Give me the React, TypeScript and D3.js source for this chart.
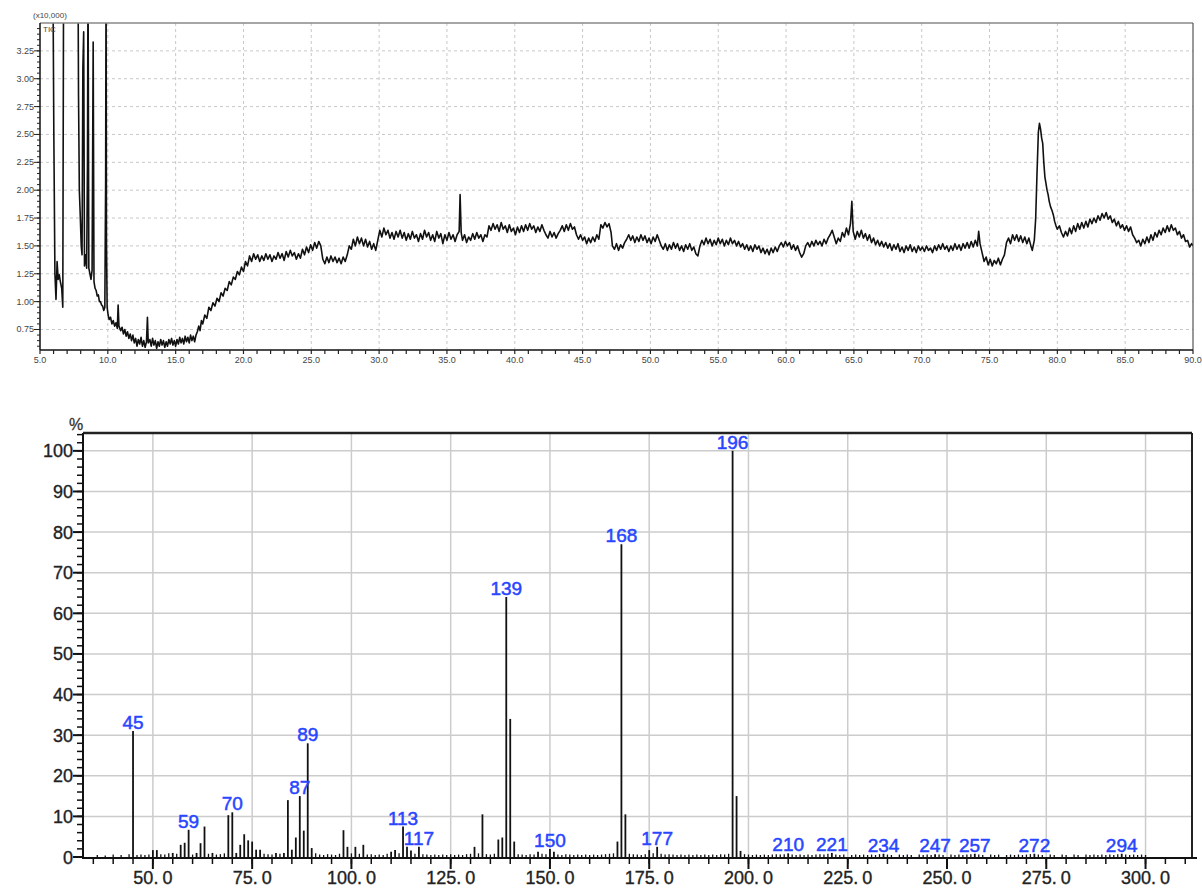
import * as d3 from 'd3';

// TIC trace, intensity in units of 10,000 (values above 3.5 run off the top)
const ticTrace: [number, number][] = [
  [5.95, 4.0], [6.02, 2.5], [6.1, 1.25], [6.18, 1.02], [6.26, 1.36], [6.34, 1.2], [6.42, 1.24], [6.5, 1.18],
  [6.6, 1.12], [6.68, 0.95], [6.74, 4.0], [7.8, 4.0], [7.84, 2.85], [7.9, 2.0], [7.96, 1.8], [8.04, 1.5],
  [8.1, 1.42], [8.16, 3.1], [8.22, 3.42], [8.28, 1.32], [8.36, 1.42], [8.44, 1.3], [8.5, 2.25], [8.54, 4.0],
  [8.6, 1.3], [8.68, 1.25], [8.76, 1.2], [8.84, 1.28], [8.92, 3.33], [8.98, 1.18], [9.06, 1.12], [9.14, 1.1],
  [9.22, 1.05], [9.3, 1.06], [9.38, 1.0], [9.46, 1.0], [9.54, 0.97], [9.62, 0.96], [9.7, 0.92], [9.78, 0.95],
  [9.84, 2.1], [9.87, 4.0], [9.9, 1.55], [9.95, 0.95],
  [10.02, 0.88], [10.1, 0.84], [10.2, 0.86], [10.3, 0.8], [10.4, 0.83], [10.5, 0.78], [10.6, 0.81], [10.7, 0.76],
  [10.76, 0.97], [10.82, 0.78], [10.95, 0.74], [11.05, 0.77], [11.15, 0.71], [11.25, 0.75], [11.35, 0.69],
  [11.45, 0.73], [11.55, 0.67], [11.65, 0.71], [11.75, 0.65], [11.85, 0.7], [11.95, 0.63], [12.05, 0.67],
  [12.15, 0.6], [12.25, 0.66], [12.35, 0.62], [12.45, 0.68], [12.55, 0.6], [12.65, 0.65], [12.75, 0.59],
  [12.85, 0.64], [12.92, 0.86], [12.98, 0.63], [13.1, 0.66], [13.2, 0.6], [13.3, 0.67], [13.4, 0.61],
  [13.5, 0.65], [13.6, 0.58], [13.7, 0.64], [13.8, 0.6], [13.9, 0.66], [14.0, 0.61], [14.1, 0.65], [14.2, 0.59],
  [14.3, 0.64], [14.4, 0.6], [14.5, 0.66], [14.6, 0.62], [14.7, 0.67], [14.8, 0.61], [14.9, 0.65], [15.0, 0.6],
  [15.1, 0.66], [15.2, 0.62], [15.3, 0.68], [15.4, 0.63], [15.5, 0.67], [15.6, 0.62], [15.7, 0.69], [15.8, 0.64],
  [15.9, 0.68], [16.0, 0.63], [16.1, 0.7], [16.2, 0.65], [16.3, 0.69], [16.4, 0.64], [16.5, 0.7], [16.6, 0.73],
  [16.7, 0.78], [16.8, 0.74], [16.9, 0.83], [17.0, 0.8], [17.15, 0.88], [17.3, 0.85], [17.45, 0.95], [17.6, 0.92],
  [17.75, 0.99], [17.9, 0.96], [18.05, 1.03], [18.2, 1.0], [18.35, 1.08], [18.5, 1.05], [18.65, 1.12], [18.8, 1.1],
  [18.95, 1.18], [19.1, 1.15], [19.25, 1.22], [19.4, 1.2], [19.55, 1.27], [19.7, 1.24], [19.85, 1.31], [20.0, 1.27],
  [20.15, 1.36], [20.3, 1.32], [20.45, 1.41], [20.6, 1.36], [20.75, 1.43], [20.9, 1.38], [21.05, 1.42], [21.2, 1.36],
  [21.35, 1.41], [21.5, 1.37], [21.65, 1.43], [21.8, 1.38], [21.95, 1.42], [22.1, 1.36], [22.25, 1.41], [22.4, 1.38],
  [22.55, 1.44], [22.7, 1.39], [22.85, 1.43], [23.0, 1.37], [23.15, 1.45], [23.3, 1.4], [23.45, 1.46], [23.6, 1.41],
  [23.75, 1.44], [23.9, 1.38], [24.05, 1.43], [24.2, 1.39], [24.35, 1.47], [24.5, 1.42], [24.65, 1.49], [24.8, 1.44],
  [24.95, 1.51], [25.1, 1.46], [25.25, 1.53], [25.4, 1.48], [25.55, 1.54], [25.7, 1.5], [25.85, 1.38], [26.0, 1.34],
  [26.15, 1.4], [26.3, 1.35], [26.45, 1.41], [26.6, 1.36], [26.75, 1.4], [26.9, 1.35], [27.05, 1.39], [27.2, 1.34],
  [27.35, 1.4], [27.5, 1.36], [27.65, 1.42], [27.8, 1.5], [27.95, 1.47], [28.1, 1.56], [28.25, 1.5], [28.4, 1.58],
  [28.55, 1.52], [28.7, 1.57], [28.85, 1.5], [29.0, 1.56], [29.15, 1.49], [29.3, 1.54], [29.45, 1.47], [29.6, 1.52],
  [29.75, 1.46], [29.9, 1.55], [30.05, 1.64], [30.2, 1.58], [30.35, 1.66], [30.5, 1.6], [30.65, 1.64], [30.8, 1.57],
  [30.95, 1.62], [31.1, 1.56], [31.25, 1.63], [31.4, 1.58], [31.55, 1.64], [31.7, 1.57], [31.85, 1.62], [32.0, 1.55],
  [32.15, 1.61], [32.3, 1.56], [32.45, 1.63], [32.6, 1.57], [32.75, 1.6], [32.9, 1.54], [33.05, 1.61], [33.2, 1.56],
  [33.35, 1.64], [33.5, 1.58], [33.65, 1.62], [33.8, 1.55], [33.95, 1.6], [34.1, 1.54], [34.25, 1.63], [34.4, 1.57],
  [34.55, 1.61], [34.7, 1.52], [34.85, 1.6], [35.0, 1.55], [35.15, 1.62], [35.3, 1.56], [35.45, 1.6], [35.6, 1.54],
  [35.75, 1.6], [35.9, 1.63], [35.97, 1.96], [36.05, 1.62], [36.15, 1.55], [36.3, 1.6], [36.45, 1.53], [36.6, 1.58],
  [36.75, 1.55], [36.9, 1.61], [37.05, 1.56], [37.2, 1.62], [37.35, 1.57], [37.5, 1.6], [37.65, 1.54], [37.8, 1.6],
  [37.95, 1.58], [38.1, 1.68], [38.25, 1.64], [38.4, 1.7], [38.55, 1.65], [38.7, 1.69], [38.85, 1.63], [39.0, 1.71],
  [39.15, 1.65], [39.3, 1.68], [39.45, 1.62], [39.6, 1.69], [39.75, 1.63], [39.9, 1.66], [40.05, 1.6], [40.2, 1.67],
  [40.35, 1.62], [40.5, 1.68], [40.65, 1.63], [40.8, 1.69], [40.95, 1.64], [41.1, 1.7], [41.25, 1.65], [41.4, 1.68],
  [41.55, 1.62], [41.7, 1.67], [41.85, 1.63], [42.0, 1.69], [42.15, 1.64], [42.3, 1.6], [42.45, 1.57], [42.6, 1.63],
  [42.75, 1.58], [42.9, 1.62], [43.05, 1.57], [43.2, 1.61], [43.35, 1.64], [43.5, 1.68], [43.65, 1.63], [43.8, 1.69],
  [43.95, 1.64], [44.1, 1.7], [44.25, 1.65], [44.4, 1.67], [44.55, 1.6], [44.7, 1.56], [44.85, 1.6], [45.0, 1.55],
  [45.15, 1.58], [45.3, 1.52], [45.45, 1.57], [45.6, 1.53], [45.75, 1.58], [45.9, 1.54], [46.05, 1.6], [46.2, 1.56],
  [46.35, 1.69], [46.5, 1.66], [46.65, 1.71], [46.8, 1.67], [46.95, 1.7], [47.1, 1.62], [47.2, 1.5], [47.35, 1.47],
  [47.5, 1.52], [47.65, 1.46], [47.8, 1.51], [47.95, 1.48], [48.1, 1.53], [48.25, 1.56], [48.4, 1.6], [48.55, 1.55],
  [48.7, 1.59], [48.85, 1.53], [49.0, 1.58], [49.15, 1.54], [49.3, 1.6], [49.45, 1.55], [49.6, 1.59], [49.75, 1.53],
  [49.9, 1.57], [50.05, 1.52], [50.2, 1.58], [50.35, 1.54], [50.5, 1.6], [50.65, 1.55], [50.8, 1.5], [50.95, 1.47],
  [51.1, 1.52], [51.25, 1.46], [51.4, 1.51], [51.55, 1.47], [51.7, 1.53], [51.85, 1.48], [52.0, 1.52], [52.15, 1.46],
  [52.3, 1.5], [52.45, 1.45], [52.6, 1.51], [52.75, 1.47], [52.9, 1.52], [53.05, 1.46], [53.2, 1.49], [53.35, 1.43],
  [53.5, 1.41], [53.65, 1.5], [53.8, 1.55], [53.95, 1.51], [54.1, 1.57], [54.25, 1.52], [54.4, 1.56], [54.55, 1.5],
  [54.7, 1.55], [54.85, 1.51], [55.0, 1.57], [55.15, 1.52], [55.3, 1.56], [55.45, 1.5], [55.6, 1.55], [55.75, 1.51],
  [55.9, 1.57], [56.05, 1.52], [56.2, 1.55], [56.35, 1.5], [56.5, 1.54], [56.65, 1.49], [56.8, 1.52], [56.95, 1.47],
  [57.1, 1.51], [57.25, 1.46], [57.4, 1.5], [57.55, 1.45], [57.7, 1.51], [57.85, 1.47], [58.0, 1.5], [58.15, 1.44],
  [58.3, 1.48], [58.45, 1.43], [58.6, 1.47], [58.75, 1.42], [58.9, 1.48], [59.05, 1.44], [59.2, 1.49], [59.35, 1.45],
  [59.5, 1.5], [59.65, 1.53], [59.8, 1.49], [59.95, 1.54], [60.1, 1.5], [60.25, 1.53], [60.4, 1.47], [60.55, 1.51],
  [60.7, 1.46], [60.85, 1.5], [61.0, 1.44], [61.15, 1.4], [61.3, 1.43], [61.45, 1.5], [61.6, 1.53], [61.75, 1.49],
  [61.9, 1.54], [62.05, 1.5], [62.2, 1.55], [62.35, 1.51], [62.5, 1.54], [62.65, 1.5], [62.8, 1.56], [62.95, 1.52],
  [63.1, 1.57], [63.25, 1.6], [63.4, 1.64], [63.55, 1.58], [63.7, 1.52], [63.85, 1.57], [64.0, 1.54], [64.15, 1.62],
  [64.3, 1.58], [64.45, 1.66], [64.6, 1.6], [64.75, 1.7], [64.85, 1.9], [64.95, 1.63], [65.1, 1.56], [65.25, 1.63],
  [65.4, 1.58], [65.55, 1.64], [65.7, 1.57], [65.85, 1.61], [66.0, 1.55], [66.15, 1.6], [66.3, 1.53], [66.45, 1.57],
  [66.6, 1.51], [66.75, 1.55], [66.9, 1.5], [67.05, 1.54], [67.2, 1.49], [67.35, 1.53], [67.5, 1.48], [67.65, 1.52],
  [67.8, 1.46], [67.95, 1.51], [68.1, 1.47], [68.25, 1.52], [68.4, 1.45], [68.55, 1.49], [68.7, 1.44], [68.85, 1.5],
  [69.0, 1.46], [69.15, 1.51], [69.3, 1.45], [69.45, 1.49], [69.6, 1.44], [69.75, 1.5], [69.9, 1.46], [70.05, 1.49],
  [70.2, 1.45], [70.35, 1.5], [70.5, 1.46], [70.65, 1.48], [70.8, 1.44], [70.95, 1.5], [71.1, 1.46], [71.25, 1.51],
  [71.4, 1.47], [71.55, 1.52], [71.7, 1.47], [71.85, 1.5], [72.0, 1.45], [72.15, 1.5], [72.3, 1.46], [72.45, 1.52],
  [72.6, 1.47], [72.75, 1.51], [72.9, 1.46], [73.05, 1.52], [73.2, 1.48], [73.35, 1.53], [73.5, 1.48], [73.65, 1.54],
  [73.8, 1.49], [73.95, 1.55], [74.1, 1.5], [74.2, 1.63], [74.3, 1.52], [74.45, 1.44], [74.6, 1.36], [74.75, 1.4],
  [74.9, 1.33], [75.05, 1.38], [75.2, 1.32], [75.35, 1.37], [75.5, 1.34], [75.65, 1.39], [75.8, 1.33], [75.95, 1.38],
  [76.1, 1.42], [76.25, 1.53], [76.4, 1.57], [76.55, 1.52], [76.7, 1.6], [76.85, 1.55], [77.0, 1.6], [77.15, 1.54],
  [77.3, 1.59], [77.45, 1.53], [77.6, 1.58], [77.75, 1.52], [77.9, 1.57], [78.05, 1.5], [78.15, 1.46], [78.3, 1.55],
  [78.4, 1.74], [78.5, 2.15], [78.6, 2.52], [78.68, 2.6], [78.76, 2.55], [78.84, 2.47], [78.92, 2.42], [79.0, 2.25],
  [79.08, 2.12], [79.16, 2.06], [79.24, 2.0], [79.32, 1.96], [79.4, 1.9], [79.5, 1.85], [79.6, 1.82], [79.7, 1.78],
  [79.8, 1.72], [79.9, 1.68], [80.0, 1.65], [80.15, 1.68], [80.3, 1.62], [80.45, 1.58], [80.6, 1.63], [80.75, 1.59],
  [80.9, 1.66], [81.05, 1.61], [81.2, 1.68], [81.35, 1.63], [81.5, 1.7], [81.65, 1.65], [81.8, 1.71], [81.95, 1.66],
  [82.1, 1.72], [82.25, 1.67], [82.4, 1.74], [82.55, 1.7], [82.7, 1.75], [82.85, 1.71], [83.0, 1.77], [83.15, 1.73],
  [83.3, 1.79], [83.45, 1.75], [83.6, 1.8], [83.75, 1.74], [83.9, 1.77], [84.05, 1.71], [84.2, 1.74], [84.35, 1.68],
  [84.5, 1.72], [84.65, 1.66], [84.8, 1.69], [84.95, 1.64], [85.1, 1.68], [85.25, 1.63], [85.4, 1.67], [85.55, 1.6],
  [85.7, 1.57], [85.85, 1.53], [86.0, 1.55], [86.15, 1.5], [86.3, 1.56], [86.45, 1.52], [86.6, 1.58], [86.75, 1.53],
  [86.9, 1.6], [87.05, 1.55], [87.2, 1.62], [87.35, 1.58], [87.5, 1.64], [87.65, 1.6], [87.8, 1.66], [87.95, 1.62],
  [88.1, 1.68], [88.25, 1.63], [88.4, 1.69], [88.55, 1.64], [88.7, 1.66], [88.85, 1.6], [89.0, 1.63], [89.15, 1.57],
  [89.3, 1.6], [89.45, 1.54], [89.6, 1.55], [89.75, 1.49], [89.9, 1.52], [90.0, 1.5],
];

const ticYTicks = [0.75, 1.0, 1.25, 1.5, 1.75, 2.0, 2.25, 2.5, 2.75, 3.0, 3.25];
const ticXTicks = [5, 10, 15, 20, 25, 30, 35, 40, 45, 50, 55, 60, 65, 70, 75, 80, 85, 90];

// mass spectrum
const peakMz = [
  45, 50, 51, 55, 57, 58, 59, 61, 62, 63, 65, 69, 70, 71, 72, 73, 74, 75, 76, 77, 81, 83, 84, 85, 86, 87, 88, 89, 90,
  98, 99, 101, 103, 110, 111, 113, 114, 115, 117, 131, 133, 137, 138, 139, 140, 141, 147, 150, 151, 167, 168, 169,
  175, 177, 196, 197, 198, 210, 221, 234, 247, 257, 272, 294,
];
const peakIntensity = [
  31, 1.7, 1.7, 1.0, 3.0, 3.5, 6.7, 1.0, 3.4, 7.5, 1.0, 10.3, 11, 1.0, 3.0, 5.6, 4.1, 3.8, 1.8, 1.8, 1.0, 1.0, 14,
  1.8, 4.8, 15, 6.5, 28, 2.2, 6.6, 2.5, 2.5, 3.0, 1.3, 1.7, 7.5, 2.5, 1.6, 2.5, 2.5, 10.5, 4.3, 4.8, 64, 34, 3.8,
  1.3, 2.0, 1.3, 3.8, 77, 10.5, 1.7, 2.5, 100, 15, 1.5, 0.9, 1.0, 0.8, 0.7, 0.8, 0.8, 0.8,
];
const labeledMz = [45, 59, 70, 87, 89, 113, 117, 139, 150, 168, 177, 196, 210, 221, 234, 247, 257, 272, 294];

// tiny baseline peaks
const minorPeaks: [number, number][] = [
  [36, 0.5], [38, 0.4], [40, 0.6], [42, 0.5], [44, 0.7], [46, 0.5], [47, 0.6], [48, 0.5], [49, 0.6], [52, 0.7],
  [53, 0.6], [54, 0.9], [56, 0.8], [60, 0.6], [64, 0.8], [66, 0.6], [67, 0.7], [68, 0.9], [78, 0.8], [79, 0.7],
  [80, 0.6], [82, 0.8], [91, 0.9], [92, 0.6], [93, 0.5], [94, 0.7], [95, 0.6], [96, 0.5], [97, 0.8], [100, 0.9],
  [102, 0.8], [104, 0.6], [105, 0.7], [106, 0.5], [107, 0.6], [108, 0.5], [109, 0.8], [112, 0.9], [116, 0.8],
  [118, 0.7], [119, 0.6], [120, 0.5], [121, 0.6], [122, 0.5], [123, 0.6], [124, 0.5], [125, 0.7], [126, 0.5],
  [127, 0.6], [128, 0.5], [129, 0.7], [130, 0.8], [132, 0.9], [134, 0.7], [135, 0.6], [136, 0.8], [142, 0.7],
  [143, 0.6], [144, 0.5], [145, 0.7], [146, 0.6], [148, 0.8], [149, 0.7], [152, 0.6], [153, 0.5], [154, 0.7],
  [155, 0.6], [156, 0.5], [157, 0.6], [158, 0.5], [159, 0.6], [160, 0.5], [161, 0.6], [162, 0.5], [163, 0.6],
  [164, 0.7], [165, 0.8], [166, 0.9], [170, 0.8], [171, 0.7], [172, 0.6], [173, 0.5], [174, 0.7], [176, 0.9],
  [178, 0.8], [179, 0.6], [180, 0.7], [181, 0.6], [182, 0.5], [183, 0.6], [184, 0.5], [185, 0.6], [186, 0.5],
  [187, 0.6], [188, 0.5], [189, 0.6], [190, 0.5], [191, 0.6], [192, 0.5], [193, 0.7], [194, 0.6], [195, 0.8],
  [199, 0.7], [200, 0.6], [201, 0.5], [202, 0.6], [203, 0.5], [204, 0.6], [205, 0.5], [206, 0.6], [207, 0.7],
  [208, 0.6], [209, 0.7], [211, 0.6], [212, 0.5], [213, 0.6], [214, 0.5], [215, 0.6], [216, 0.5], [217, 0.6],
  [218, 0.7], [219, 0.6], [220, 0.8], [222, 0.6], [223, 0.5], [224, 0.6], [226, 0.5], [227, 0.6], [228, 0.5],
  [229, 0.6], [230, 0.5], [231, 0.6], [232, 0.5], [233, 0.7], [235, 0.6], [236, 0.5], [238, 0.6], [239, 0.5],
  [240, 0.6], [241, 0.5], [243, 0.6], [244, 0.5], [245, 0.6], [246, 0.5], [248, 0.6], [249, 0.5], [251, 0.6],
  [252, 0.5], [253, 0.6], [254, 0.5], [255, 0.6], [256, 0.7], [258, 0.6], [259, 0.5], [261, 0.6], [262, 0.5],
  [263, 0.6], [265, 0.5], [266, 0.6], [267, 0.5], [268, 0.6], [269, 0.5], [270, 0.6], [271, 0.7], [273, 0.6],
  [274, 0.5], [276, 0.6], [277, 0.5], [279, 0.6], [280, 0.5], [282, 0.6], [283, 0.5], [285, 0.6], [286, 0.5],
  [287, 0.6], [288, 0.5], [289, 0.6], [290, 0.5], [291, 0.6], [292, 0.5], [293, 0.7], [295, 0.6], [296, 0.5],
  [297, 0.6], [298, 0.5], [299, 0.6], [300, 0.5],
];

const msYTicks = [0, 10, 20, 30, 40, 50, 60, 70, 80, 90, 100];
const msXTicks = [50, 75, 100, 125, 150, 175, 200, 225, 250, 275, 300];

const W = 1202;
const H = 890;

export default function App() {
  // --- chromatogram ---
  const tL = 40, tR = 1193, tT = 23, tB = 350;
  const tx = d3.scaleLinear().domain([5, 90]).range([tL, tR]);
  const ty = d3.scaleLinear().domain([0.566, 3.5]).range([tB, tT]);
  const ticLine = d3.line<[number, number]>().x(d => tx(d[0])).y(d => ty(d[1]));
  const ticMinorY = d3.range(0.6, 3.49, 0.05);
  const ticMinorX = d3.range(5, 90.5, 1);

  // --- mass spectrum ---
  const mL = 83, mR = 1192, mT = 433, mB = 857;
  const mx = d3.scaleLinear().domain([32.4, 311.7]).range([mL, mR]);
  const my = d3.scaleLinear().domain([0, 104.4]).range([mB, mT]);
  const msMinorY = d3.range(0, 105, 2);
  const msMinorX = d3.range(35, 311, 5);
  const peaks = peakMz.map((m, i) => ({ m, v: peakIntensity[i] }));

  const small = { fontFamily: 'Liberation Sans, Arial, sans-serif', fontSize: 9, fill: '#444' };
  const tickFont = {
    fontFamily: 'Liberation Sans, Arial, sans-serif', fontSize: 18, fill: '#222', stroke: '#222', strokeWidth: 0.35,
  };
  const blue = '#2845ff';

  return (
    <svg width={W} height={H} style={{ position: 'absolute', left: 0, top: 0, background: '#fff' }}>
      <defs>
        <clipPath id="ticClip">
          <rect x={tL} y={tT} width={tR - tL} height={tB - tT} />
        </clipPath>
      </defs>

      {/* chromatogram grid */}
      {ticXTicks.slice(1, -1).map(t => (
        <line key={'tg' + t} x1={tx(t)} x2={tx(t)} y1={tT} y2={tB} stroke="#c8c8c8" strokeDasharray="3,3" />
      ))}
      {ticYTicks.map(v => (
        <line key={'tgy' + v} x1={tL} x2={tR} y1={ty(v)} y2={ty(v)} stroke="#c8c8c8" strokeDasharray="3,3" />
      ))}

      <path d={ticLine(ticTrace) || ''} fill="none" stroke="#111" strokeWidth={1.6} strokeLinejoin="round"
        clipPath="url(#ticClip)" />

      {/* chromatogram frame and axes */}
      <line x1={tL} x2={tR} y1={tT} y2={tT} stroke="#888" strokeWidth={1.5} />
      <line x1={tR} x2={tR} y1={tT} y2={tB} stroke="#555" strokeWidth={1.2} />
      <line x1={tL} x2={tL} y1={tT} y2={tB} stroke="#111" strokeWidth={1.5} />
      <line x1={tL} x2={tR} y1={tB} y2={tB} stroke="#111" strokeWidth={1.3} />
      {ticMinorY.map(v => (
        <line key={'tmy' + v} x1={tL - 3} x2={tL} y1={ty(v)} y2={ty(v)} stroke="#222" />
      ))}
      {ticYTicks.map(v => (
        <g key={'tly' + v}>
          <line x1={tL - 6} x2={tL} y1={ty(v)} y2={ty(v)} stroke="#222" />
          <text x={tL - 6} y={ty(v) + 3} textAnchor="end" {...small}>{v.toFixed(2)}</text>
        </g>
      ))}
      {ticMinorX.map(t => (
        <line key={'tmx' + t} x1={tx(t)} x2={tx(t)} y1={tB} y2={tB + 4} stroke="#222" strokeWidth={1.2} />
      ))}
      {ticXTicks.map(t => (
        <text key={'tlx' + t} x={tx(t)} y={tB + 13} textAnchor="middle" {...small}>{t.toFixed(1)}</text>
      ))}
      <text x={33} y={18} {...small} fontSize={8}>(x10,000)</text>
      <text x={43} y={32} {...small} fontSize={8}>TIC</text>

      {/* mass spectrum grid */}
      {msXTicks.map(m => (
        <line key={'mg' + m} x1={mx(m)} x2={mx(m)} y1={mT} y2={mB} stroke="#cccccc" strokeWidth={1.5} />
      ))}
      {msYTicks.slice(1).map(v => (
        <line key={'mgy' + v} x1={mL} x2={mR} y1={my(v)} y2={my(v)} stroke="#cccccc" strokeWidth={1.5} />
      ))}

      {/* baseline noise and peaks */}
      {minorPeaks.map(([m, v]) => (
        <line key={'mn' + m} x1={mx(m)} x2={mx(m)} y1={my(0)} y2={my(v)} stroke="#111" strokeWidth={1.3} />
      ))}
      {peaks.map(p => (
        <line key={'pk' + p.m} x1={mx(p.m)} x2={mx(p.m)} y1={my(0)} y2={my(p.v)} stroke="#111" strokeWidth={1.8} />
      ))}
      {peaks.filter(p => labeledMz.includes(p.m)).map(p => (
        <text key={'pl' + p.m} x={mx(p.m)} y={my(p.v) - 2} textAnchor="middle"
          fontFamily="Liberation Sans, Arial, sans-serif" fontSize={19} fill={blue}
          stroke={blue} strokeWidth={0.5}>{p.m}</text>
      ))}

      {/* mass spectrum frame and axes */}
      <line x1={mL} x2={mR} y1={mT} y2={mT} stroke="#222" strokeWidth={2.5} />
      <line x1={mR} x2={mR} y1={mT} y2={mB + 1} stroke="#222" strokeWidth={2} />
      <line x1={mL} x2={mL} y1={mT} y2={mB + 2} stroke="#111" strokeWidth={2} />
      <line x1={mL} x2={1197} y1={mB + 1} y2={mB + 1} stroke="#111" strokeWidth={2} />
      {msMinorY.map(v => (
        <line key={'mmy' + v} x1={mL - 6} x2={mL} y1={my(v)} y2={my(v)} stroke="#111" strokeWidth={1.5} />
      ))}
      {msYTicks.map(v => (
        <g key={'mly' + v}>
          <line x1={mL - 10} x2={mL} y1={my(v)} y2={my(v)} stroke="#111" strokeWidth={2} />
          <text x={mL - 10} y={my(v) + 6.5} textAnchor="end" {...tickFont}>{v}</text>
        </g>
      ))}
      {msMinorX.map(m => (
        <line key={'mmx' + m} x1={mx(m)} x2={mx(m)} y1={mB + 1} y2={mB + 7} stroke="#111" strokeWidth={1.5} />
      ))}
      {msXTicks.map(m => {
        const s = m.toFixed(1);
        const dot = s.indexOf('.');
        return (
          <g key={'mlx' + m}>
            <line x1={mx(m)} x2={mx(m)} y1={mB + 1} y2={mB + 12} stroke="#111" strokeWidth={2} />
            <text x={mx(m)} y={mB + 27} textAnchor="middle" {...tickFont}>
              <tspan>{s.slice(0, dot + 1)}</tspan>
              <tspan dx={4}>{s.slice(dot + 1)}</tspan>
            </text>
          </g>
        );
      })}
      <text x={76} y={430} textAnchor="middle" fontFamily="Liberation Sans, Arial, sans-serif" fontSize={16}
        fill="#333" stroke="#333" strokeWidth={0.3}>%</text>
    </svg>
  );
}
